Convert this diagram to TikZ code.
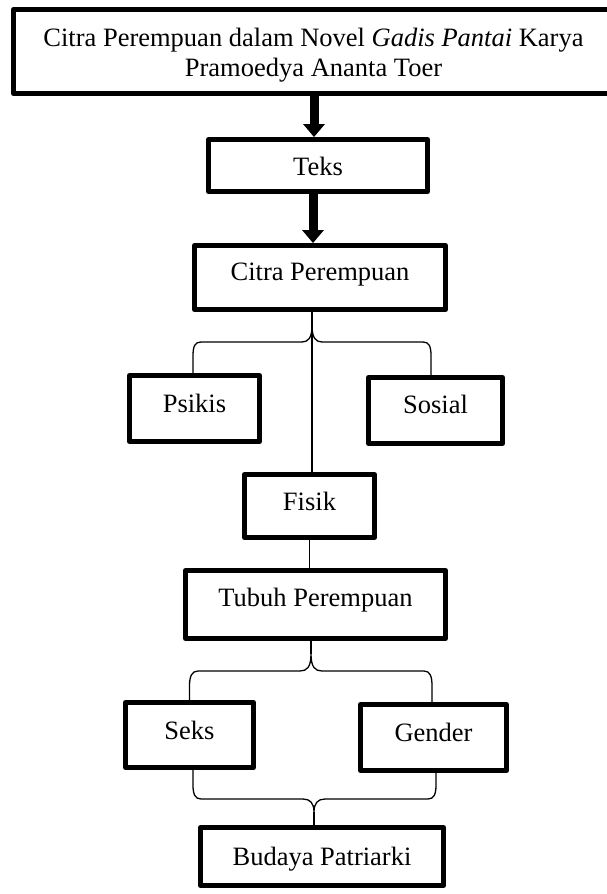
\documentclass[tikz,border=0pt]{standalone}
\usepackage{fontspec}
\setmainfont{Liberation Serif}
\usetikzlibrary{arrows.meta}
\begin{document}
\begin{tikzpicture}[x=1pt,y=-1pt,
  box/.style={draw=black, fill=white, line width=5pt, line join=round, inner sep=0pt,
    font=\fontsize{26.5}{30}\selectfont, align=center},
  conn/.style={draw=black, line width=1.3pt},
  bigarrow/.style={draw=black, line width=9pt,
    -{Triangle[width=22pt,length=13pt,line width=0pt]}},
]
\useasboundingbox (0,0) rectangle (607,894);

% boxes
\node[box, minimum width=600pt, minimum height=84pt, text height=52pt, text depth=3pt]
  (top) at (313.5,51.5) {Citra Perempuan dalam Novel \textit{Gadis Pantai} Karya\\Pramoedya Ananta Toer};
\node[box, minimum width=219pt, minimum height=52pt, text height=21.5pt, text depth=2.5pt]
  (teks) at (318,165.5) {Teks};
\node[box, minimum width=251pt, minimum height=64pt, text height=14.5pt, text depth=9.5pt]
  (citra) at (320,277.5) {Citra Perempuan};
\node[box, minimum width=130pt, minimum height=66pt, text height=15.5pt, text depth=8.5pt]
  (psikis) at (194.5,408.5) {Psikis};
\node[box, minimum width=134pt, minimum height=66pt, text height=14.5pt, text depth=9.5pt]
  (sosial) at (435.5,410.5) {Sosial};
\node[box, minimum width=130pt, minimum height=63pt, text height=16pt, text depth=8pt]
  (fisik) at (309.5,506) {Fisik};
\node[box, minimum width=260pt, minimum height=68pt, text height=13.5pt, text depth=10.5pt]
  (tubuh) at (315.5,604.5) {Tubuh Perempuan};
\node[box, minimum width=128pt, minimum height=65pt, text height=16pt, text depth=8pt]
  (seks) at (189.5,735) {Seks};
\node[box, minimum width=146pt, minimum height=66pt, text height=15.5pt, text depth=8.5pt]
  (gender) at (433.5,737.5) {Gender};
\node[box, minimum width=243pt, minimum height=58pt, text height=20.5pt, text depth=3.5pt]
  (budaya) at (322,856.5) {Budaya Patriarki};

% helper coordinates
\coordinate (a1) at (314,0);
\coordinate (a2) at (313,0);
\coordinate (s1) at (312,0);
\coordinate (pl) at (193,0);
\coordinate (sr) at (431,0);
\coordinate (bA) at (312,326);
\coordinate (bB) at (311,654);
\coordinate (gl) at (432,0);
\coordinate (cl) at (193,0);
\coordinate (cr) at (436,0);
\coordinate (cC) at (314,812);

% thick arrows
\draw[bigarrow] (top.south -| a1) -- (teks.north -| a1);
\draw[bigarrow] (teks.south -| a2) -- (citra.north -| a2);

% citra -> psikis / sosial brace, and stem to fisik
\draw[conn] (citra.south -| s1) -- (fisik.north -| s1);
\draw[conn] (psikis.north -| pl) -- (193,356) .. controls (193,346) and (195,342) .. (201,342)
  -- (302,342) .. controls (308,342) and (312,338) .. (bA)
  .. controls (312,338) and (316,342) .. (322,342)
  -- (423,342) .. controls (429,342) and (431,346) .. (431,356) -- (sosial.north -| sr);

% fisik -> tubuh
\draw[conn] (fisik.south) -- (fisik.south |- tubuh.north);

% tubuh -> seks / gender brace
\draw[conn] (tubuh.south -| bB) -- (bB);
\draw[conn] (seks.north) -- (189.5,686) .. controls (189.5,676) and (192,671) .. (198,671)
  -- (300,671) .. controls (307,671) and (311,667) .. (bB)
  .. controls (311,667) and (315,671) .. (322,671)
  -- (424,671) .. controls (430,671) and (432,676) .. (432,686) -- (gender.north -| gl);

% seks / gender -> budaya brace
\draw[conn] (seks.south -| cl) -- (193,785) .. controls (193,794) and (195,799) .. (201,799)
  -- (303,799) .. controls (310,799) and (314,803) .. (cC)
  .. controls (314,803) and (318,799) .. (325,799)
  -- (428,799) .. controls (434,799) and (436,794) .. (436,785) -- (gender.south -| cr);
\draw[conn] (cC) -- (budaya.north -| cC);
\end{tikzpicture}
\end{document}
